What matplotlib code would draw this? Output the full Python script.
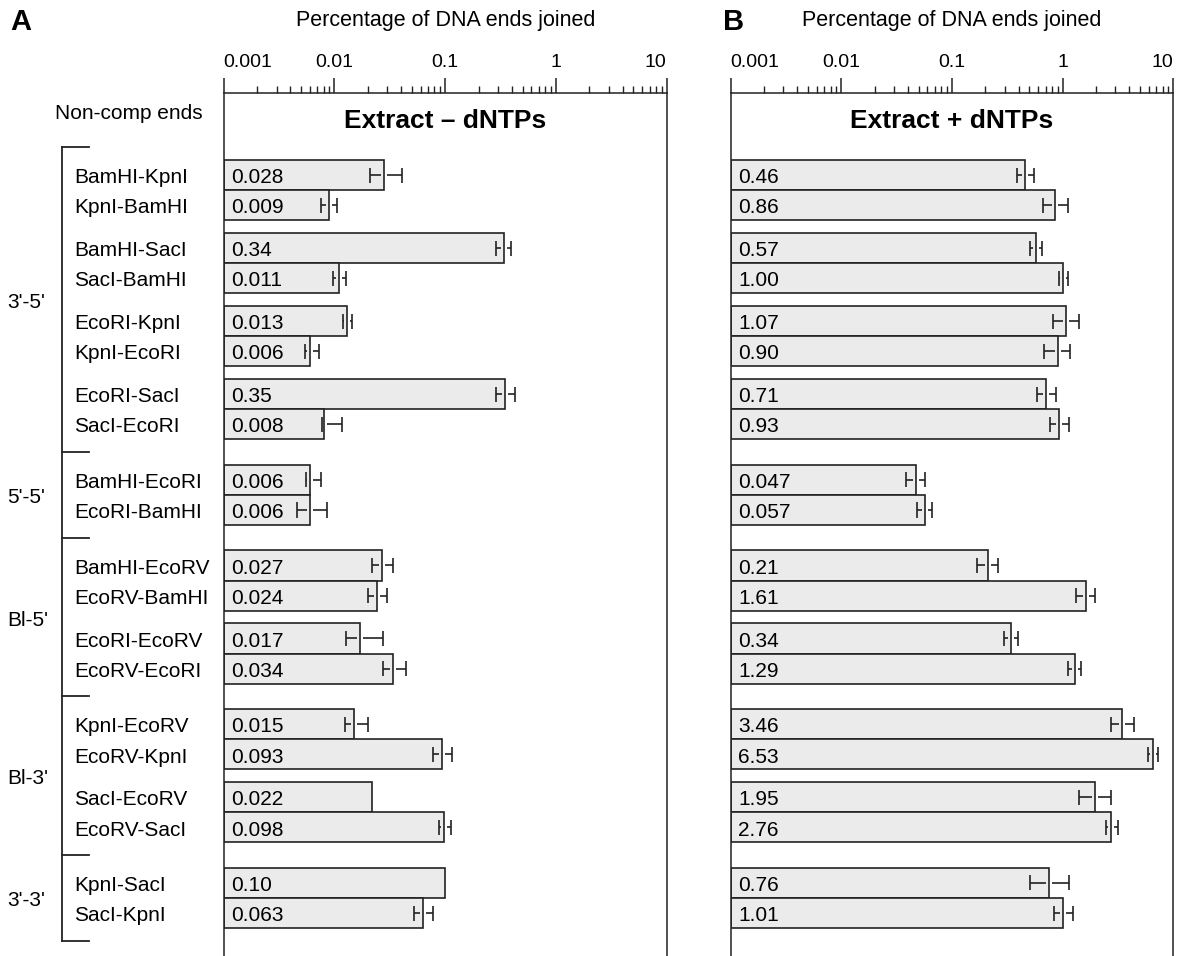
import matplotlib
matplotlib.use('Agg')
import matplotlib.pyplot as plt
from matplotlib.transforms import blended_transform_factory as blend
import numpy as np

plt.rcParams['font.family'] = ['Liberation Sans', 'DejaVu Sans']

# ---------------- data ----------------
pairs = ['BamHI-KpnI', 'KpnI-BamHI', 'BamHI-SacI', 'SacI-BamHI',
         'EcoRI-KpnI', 'KpnI-EcoRI', 'EcoRI-SacI', 'SacI-EcoRI',
         'BamHI-EcoRI', 'EcoRI-BamHI',
         'BamHI-EcoRV', 'EcoRV-BamHI', 'EcoRI-EcoRV', 'EcoRV-EcoRI',
         'KpnI-EcoRV', 'EcoRV-KpnI', 'SacI-EcoRV', 'EcoRV-SacI',
         'KpnI-SacI', 'SacI-KpnI']
group_names = ["3'-5'", "5'-5'", "Bl-5'", "Bl-3'", "3'-3'"]
group_sizes = [8, 2, 4, 4, 2]

# extract - dNTPs
minus_vals = [0.028, 0.009, 0.34, 0.011, 0.013, 0.006, 0.35, 0.008,
              0.006, 0.006,
              0.027, 0.024, 0.017, 0.034,
              0.015, 0.093, 0.022, 0.098,
              0.10, 0.063]
minus_lo = [0.021, 0.0076, 0.29, 0.0098, 0.012, 0.0054, 0.29, 0.0077,
            0.0055, 0.0046,
            0.0217, 0.020, 0.0126, 0.0273,
            0.0124, 0.077, np.nan, 0.087,
            np.nan, 0.052]
minus_hi = [0.041, 0.0106, 0.39, 0.0128, 0.0144, 0.0072, 0.43, 0.0117,
            0.0076, 0.0085,
            0.034, 0.030, 0.0273, 0.0444,
            0.020, 0.115, np.nan, 0.112,
            np.nan, 0.077]

# extract + dNTPs
plus_vals = [0.46, 0.86, 0.57, 1.00, 1.07, 0.90, 0.71, 0.93,
             0.047, 0.057,
             0.21, 1.61, 0.34, 1.29,
             3.46, 6.53, 1.95, 2.76,
             0.76, 1.01]
plus_lo = [0.385, 0.67, 0.507, 0.927, 0.823, 0.682, 0.582, 0.769,
           0.038, 0.0486,
           0.167, 1.31, 0.297, 1.125,
           2.72, 5.94, 1.41, 2.45,
           0.507, 0.836]
plus_hi = [0.555, 1.125, 0.647, 1.125, 1.41, 1.165, 0.871, 1.14,
           0.057, 0.0664,
           0.262, 1.96, 0.397, 1.466,
           4.44, 7.32, 2.72, 3.145,
           1.148, 1.248]

tick_vals = [0.001, 0.01, 0.1, 1, 10]
tick_labels = ['0.001', '0.01', '0.1', '1', '10']

# ---------------- layout ----------------
W, H = 1185, 956
fig = plt.figure(figsize=(W / 100, H / 100), dpi=100)

BAR_H = 1.0
PAIR_GAP = 0.417
GROUP_GAP = 0.838

tops = []
bounds = [-GROUP_GAP / 2]
y = 0.0
for n in group_sizes:
    for k in range(n):
        if k > 0 and k % 2 == 0:
            y += PAIR_GAP
        tops.append(y)
        y += BAR_H
    bounds.append(y + GROUP_GAP / 2)
    y += GROUP_GAP
tops = np.array(tops)
centers = tops + BAR_H / 2

EDGE = '#222222'
GAPF = 10 ** (3 / 110.7)


def fmt(v):
    return '%.3f' % v if v < 0.1 else '%.2f' % v


def panel(left_px, width_px, vals, lo, hi, title):
    ax = fig.add_axes([left_px / W, 0, width_px / W, (H - 93) / H])
    ax.set_xscale('log')
    ax.set_xlim(0.001, 10)
    ax.set_ylim((H - 160) / 30.2, -67 / 30.2)

    ax.barh(tops, [v - 0.001 for v in vals], left=0.001, height=BAR_H,
            align='edge', color='#ebebeb', edgecolor=EDGE, linewidth=1.2,
            zorder=2)

    for yc, v, l, h in zip(centers, vals, lo, hi):
        if np.isnan(l):
            continue
        if l < v / GAPF:
            ax.hlines(yc, l, v / GAPF, color=EDGE, lw=1.2, zorder=3)
        if h > v * GAPF:
            ax.hlines(yc, v * GAPF, h, color=EDGE, lw=1.2, zorder=3)
        ax.vlines([l, h], yc - 0.25, yc + 0.25, color=EDGE, lw=1.2, zorder=3)

    tr = blend(ax.transAxes, ax.transData)
    for yc, v in zip(centers, vals):
        ax.text(0.0169, yc + 0.27, fmt(v), transform=tr, fontsize=15,
                va='baseline', ha='left', zorder=4)

    ax.xaxis.tick_top()
    ax.set_xticks(tick_vals)
    ax.set_xticklabels(tick_labels)
    lbls = ax.get_xticklabels()
    lbls[0].set_horizontalalignment('left')
    lbls[-1].set_horizontalalignment('right')
    ax.tick_params(axis='x', which='major', direction='out', length=10.8,
                   width=1.1, labelsize=14, pad=5, color=EDGE)
    ax.tick_params(axis='x', which='minor', direction='out', length=5,
                   width=1.0, color=EDGE)
    ax.tick_params(bottom=False, labelbottom=False, left=False,
                   labelleft=False, right=False, labelright=False)
    ax.set_yticks([])
    ax.spines['bottom'].set_visible(False)
    for s in ['top', 'left', 'right']:
        ax.spines[s].set_linewidth(1.1)
        ax.spines[s].set_color(EDGE)

    trf = blend(ax.transAxes, fig.transFigure)
    ax.text(0.5, 1 - 128 / H, title, transform=trf, ha='center',
            va='baseline', fontsize=19, fontweight='bold')
    ax.text(0.5, 1 - 26 / H, 'Percentage of DNA ends joined', transform=trf,
            ha='center', va='baseline', fontsize=15.5)
    return ax


axA = panel(223.7, 443.0, minus_vals, minus_lo, minus_hi, 'Extract \u2013 dNTPs')
axB = panel(730.7, 442.6, plus_vals, plus_lo, plus_hi, 'Extract + dNTPs')

# row labels, group labels and bracket on the left
trL = blend(fig.transFigure, axA.transData)
for yc, name in zip(centers, pairs):
    axA.text(74 / W, yc + 0.27, name, transform=trL, fontsize=15,
             va='baseline', ha='left', clip_on=False)

xb0, xb1 = 62 / W, 89 / W
axA.plot([xb0, xb0], [bounds[0], bounds[-1]], transform=trL, color=EDGE,
         lw=1.3, clip_on=False)
for b in bounds:
    axA.plot([xb0, xb1], [b, b], transform=trL, color=EDGE, lw=1.3,
             clip_on=False)
for i, g in enumerate(group_names):
    mid = (bounds[i] + bounds[i + 1]) / 2
    axA.text(7 / W, mid + 0.28, g, transform=trL, fontsize=15,
             va='baseline', ha='left', clip_on=False)

fig.text(203 / W, 1 - 119 / H, 'Non-comp ends', ha='right', va='baseline',
         fontsize=15)
fig.text(10 / W, 1 - 30 / H, 'A', fontsize=21, fontweight='bold',
         va='baseline')
fig.text(723 / W, 1 - 30 / H, 'B', fontsize=21, fontweight='bold',
         va='baseline')

fig.savefig('out.png', dpi=100)
